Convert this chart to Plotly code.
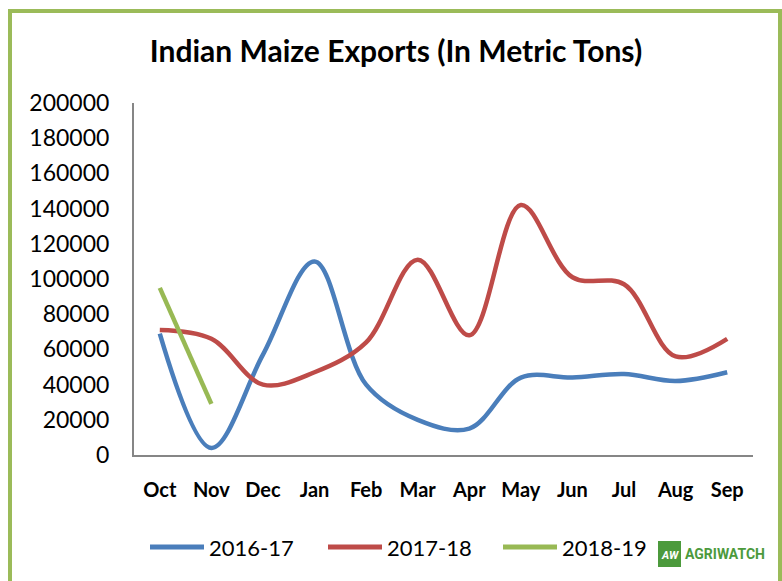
import plotly.graph_objects as go

months = ["Oct", "Nov", "Dec", "Jan", "Feb", "Mar", "Apr", "May", "Jun", "Jul", "Aug", "Sep"]
s2016_17 = [69000, 4000, 57000, 110000, 40000, 20000, 15000, 44000, 44000, 46000, 42000, 47000]
s2017_18 = [71000, 66000, 40000, 47000, 64000, 111000, 68000, 142000, 101000, 97000, 56000, 66000]
s2018_19 = [95000, 29000]
series_names = ["2016-17", "2017-18", "2018-19"]
colors = ["#4A7EBB", "#BE4B48", "#98B954"]
y_ticks = list(range(0, 200001, 20000))

W, H = 782, 581
L, R, T, B = 134, 29, 103, 126
pw, ph = W - L - R, H - T - B

def px(x):
    return (x - L) / pw

def py(y):
    return (H - B - y) / ph

fig = go.Figure()
for name, vals, c in zip(series_names, [s2016_17, s2017_18, s2018_19], colors):
    fig.add_trace(go.Scatter(
        x=months[:len(vals)], y=vals, name=name, mode="lines",
        line=dict(color=c, width=4.5, shape="spline", smoothing=1.0),
        showlegend=False,
    ))

fig.update_layout(
    width=W, height=H,
    margin=dict(l=L, r=R, t=T, b=B, autoexpand=False),
    paper_bgcolor="white", plot_bgcolor="white",
    font=dict(family="Lato", color="black"),
    title=dict(text="<b>Indian Maize Exports (In Metric Tons)</b>",
               x=396 / W, xanchor="center", y=1 - 51 / H, yanchor="middle",
               yref="container", font=dict(size=30, family="Lato", color="black")),
    xaxis=dict(type="category", categoryorder="array", categoryarray=months,
               range=[-0.5, 11.5], showgrid=False, showline=True,
               linecolor="#868686", linewidth=2, ticks="",
               tickfont=dict(size=20, family="Lato", color="black"),
               ticklabelstandoff=16,
               tickvals=months, ticktext=[f"<b>{m}</b>" for m in months]),
    yaxis=dict(range=[0, 200000], tickvals=y_ticks,
               ticktext=[str(v) for v in y_ticks],
               showgrid=False, showline=True, linecolor="#868686", linewidth=2,
               ticks="", zeroline=False, ticklabelstandoff=18,
               tickfont=dict(size=23, family="Lato", color="black")),
    showlegend=False,
)

# manual legend
legend_x = [150, 328, 503]
for name, c, lx in zip(series_names, colors, legend_x):
    fig.add_shape(type="line", xref="paper", yref="paper",
                  x0=px(lx), x1=px(lx + 54), y0=py(547), y1=py(547),
                  line=dict(color=c, width=5))
    fig.add_annotation(xref="paper", yref="paper", x=px(lx + 57), y=py(547),
                       text=name, showarrow=False, xanchor="left", yanchor="middle",
                       font=dict(size=22, family="Lato", color="black"))

# outer green border
fig.add_shape(type="rect", xref="paper", yref="paper",
              x0=px(10), x1=px(780), y0=py(592), y1=py(11),
              line=dict(color="#9BBB59", width=4), fillcolor="rgba(0,0,0,0)", layer="above")

# Agriwatch logo
fig.add_shape(type="rect", xref="paper", yref="paper",
              x0=px(658), x1=px(681), y0=py(567), y1=py(541),
              line=dict(width=0), fillcolor="#4C9A3C")
fig.add_annotation(xref="paper", yref="paper", x=px(669.5), y=py(555),
                   text="<b><i>AW</i></b>", showarrow=False,
                   font=dict(size=11, family="Roboto", color="white"),
                   xanchor="center", yanchor="middle")
fig.add_annotation(xref="paper", yref="paper", x=px(683), y=py(554),
                   text="<b>AGRIWATCH</b>", showarrow=False,
                   font=dict(size=14, family="Roboto", color="#4C9A3C"),
                   xanchor="left", yanchor="middle")

fig.write_html("out.html", config={"displayModeBar": False})

# remove the default page margin so the figure sits at the window origin
with open("out.html", "r", encoding="utf-8") as f:
    html = f.read()
html = html.replace("<body>", '<body style="margin:0;padding:0;">', 1)
with open("out.html", "w", encoding="utf-8") as f:
    f.write(html)
